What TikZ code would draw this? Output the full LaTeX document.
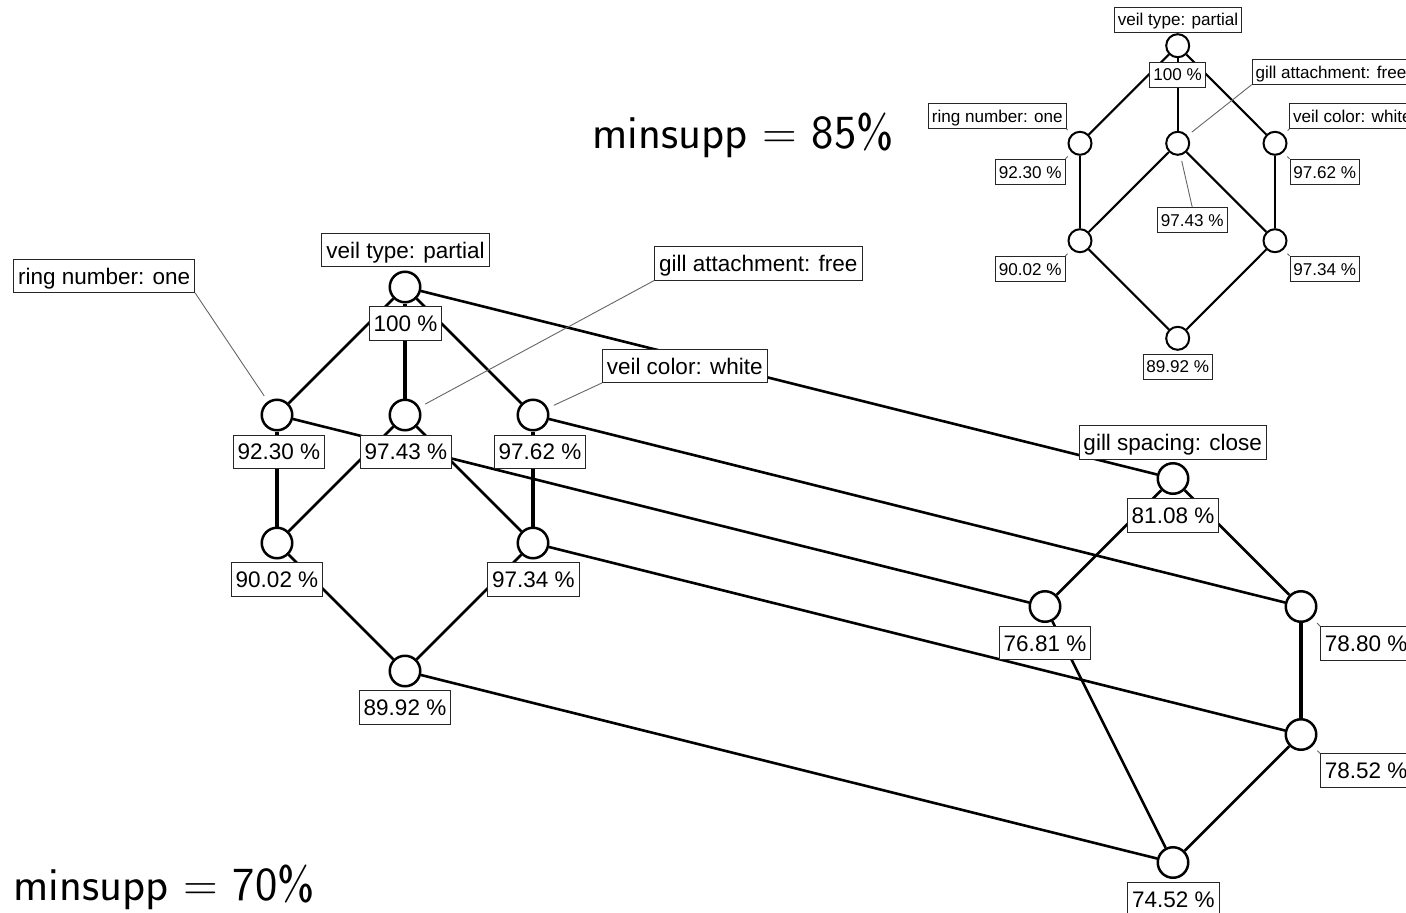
\documentclass[tikz,border=0pt]{standalone}
\usepackage{fontspec}
\setmainfont{Liberation Sans}
\usetikzlibrary{calc,backgrounds}

\begin{document}
\begin{tikzpicture}[x=1pt,y=-1pt,
  lab/.style={draw=black!85, line width=0.8pt, fill=white,
    font=\fontsize{22.5}{27}\selectfont, inner xsep=4.4pt, inner ysep=0pt,
    text height=16.4pt, text depth=0pt, minimum height=33.5pt},
  slab/.style={lab, font=\fontsize{17.1}{20}\selectfont, inner xsep=3.4pt,
    text height=12.4pt, minimum height=25pt},
  dot/.style={circle, draw, line width=2.5pt, fill=white, minimum size=30.5pt, inner sep=0pt},
  sdot/.style={dot, line width=2pt, minimum size=23pt},
  edge/.style={line width=2.6pt},
  vedge/.style={line width=3.2pt},
  sedge/.style={line width=2.1pt},
  pointer/.style={draw=black!60, line width=0.9pt},
  heading/.style={font=\fontsize{47.5}{54}\selectfont\sffamily, inner sep=0pt, anchor=base west}
]
\useasboundingbox (0,0) rectangle (1406,913);
\clip (0,0) rectangle (1406,913);

% ---- lattice at minsupp = 70% : concept circles ----
\node[dot] (T) at (405,287) {};
\node[dot] (A) at (277,415) {};
\node[dot] (B) at (405,415) {};
\node[dot] (C) at (533,415) {};
\node[dot] (D) at (277,543) {};
\node[dot] (E) at (533,543) {};
\node[dot] (F) at (405,671) {};
\node[dot] (G) at (1173,478.5) {};
\node[dot] (H) at (1045,606.5) {};
\node[dot] (I) at (1301,606.5) {};
\node[dot] (J) at (1301,734.5) {};
\node[dot] (K) at (1173,862.5) {};

% ---- lattice at minsupp = 85% : concept circles ----
\node[sdot] (sT) at (1177.7,45.7) {};
\node[sdot] (sA) at (1080,143.3) {};
\node[sdot] (sB) at (1177.7,143.3) {};
\node[sdot] (sC) at (1275,143.3) {};
\node[sdot] (sD) at (1080,240.7) {};
\node[sdot] (sE) at (1275,240.7) {};
\node[sdot] (sF) at (1177.7,338.3) {};

% ---- edges, behind circles and labels ----
\begin{scope}[on background layer]
  \fill[white] (0,0) rectangle (1406,913);
  \draw[edge] (T) -- (A);
  \draw[vedge] (T) -- (B);
  \draw[edge] (T) -- (C);
  \draw[vedge] (A) -- (D);
  \draw[edge] (B) -- (D);
  \draw[edge] (B) -- (E);
  \draw[vedge] (C) -- (E);
  \draw[edge] (D) -- (F);
  \draw[edge] (E) -- (F);
  \draw[edge] (T) -- (G);
  \draw[edge] (A) -- (H);
  \draw[edge] (C) -- (I);
  \draw[edge] (E) -- (J);
  \draw[edge] (F) -- (K);
  \draw[edge] (G) -- (H);
  \draw[edge] (G) -- (I);
  \draw[vedge] (I) -- (J);
  \draw[edge] (H) -- (K);
  \draw[edge] (J) -- (K);

  \draw[sedge] (sT) -- (sA);
  \draw[sedge] (sT) -- (sB);
  \draw[sedge] (sT) -- (sC);
  \draw[sedge] (sA) -- (sD);
  \draw[sedge] (sB) -- (sD);
  \draw[sedge] (sB) -- (sE);
  \draw[sedge] (sC) -- (sE);
  \draw[sedge] (sD) -- (sF);
  \draw[sedge] (sE) -- (sF);
\end{scope}

% ---- labels, large lattice ----
\node[lab] (lT)  at (405.5,250)   {veil type: partial};
\node[lab] (lT2) at (405.5,323.5) {100 \%};
\node[lab] (lA)  at (104.2,275.8) {ring number: one};
\node[lab] (lA2) at (278.8,451.7) {92.30 \%};
\node[lab] (lB)  at (758.3,263.3) {gill attachment: free};
\node[lab] (lB2) at (405.8,451.7) {97.43 \%};
\node[lab] (lC)  at (684.7,365.8) {veil color: white};
\node[lab] (lC2) at (540,451.7)   {97.62 \%};
\node[lab] (lD)  at (277,579.2)   {90.02 \%};
\node[lab] (lE)  at (533.3,579.2) {97.34 \%};
\node[lab] (lF)  at (405,707.2)   {89.92 \%};
\node[lab] (lG)  at (1172.7,442.2) {gill spacing: close};
\node[lab] (lG2) at (1173,515.2)  {81.08 \%};
\node[lab] (lH)  at (1045,643)    {76.81 \%};
\node[lab, anchor=west] (lI) at (1320,643.3) {78.80 \%};
\node[lab, anchor=west] (lJ) at (1320,770.5) {78.52 \%};
\node[lab] (lK)  at (1173.3,899)  {74.52 \%};

\draw[pointer] (lA.south east) -- ($(A)!23pt!(lA.south east)$);
\draw[pointer] (lB.south west) -- ($(B)!23pt!(lB.south west)$);
\draw[pointer] (lC.south west) -- ($(C)!23pt!(lC.south west)$);
\draw[pointer] (lI.north west) -- ($(I)!23pt!(lI.north west)$);
\draw[pointer] (lJ.north west) -- ($(J)!23pt!(lJ.north west)$);

% ---- labels, small lattice ----
\node[slab] (slT)  at (1178,19.5)    {veil type: partial};
\node[slab] (slT2) at (1177.5,74.5)  {100 \%};
\node[slab, anchor=west] (slB) at (1251.7,71.8) {gill attachment: free};
\node[slab] (slA)  at (997.3,116)    {ring number: one};
\node[slab, anchor=west] (slC) at (1289.3,116) {veil color: white};
\node[slab] (slA2) at (1030.3,171.8) {92.30 \%};
\node[slab] (slC2) at (1324.7,171.8) {97.62 \%};
\node[slab] (slB2) at (1192.2,220)   {97.43 \%};
\node[slab] (slD)  at (1030.3,268.8) {90.02 \%};
\node[slab] (slE)  at (1324.7,268.8) {97.34 \%};
\node[slab] (slF)  at (1177.8,366.5) {89.92 \%};

\draw[pointer] (slA.south east)  -- ($(sA)!18pt!(slA.south east)$);
\draw[pointer] (slA2.north east) -- ($(sA)!18pt!(slA2.north east)$);
\draw[pointer] (slD.north east)  -- ($(sD)!18pt!(slD.north east)$);
\draw[pointer] (slC.south west)  -- ($(sC)!18pt!(slC.south west)$);
\draw[pointer] (slC2.north west) -- ($(sC)!18pt!(slC2.north west)$);
\draw[pointer] (slE.north west)  -- ($(sE)!18pt!(slE.north west)$);
\draw[pointer] (slB.south west)  -- ($(sB)!18pt!(slB.south west)$);
\draw[pointer] (slB2.north)      -- ($(sB)!18pt!(slB2.north)$);

% ---- headings ----
\node[heading] (h85) at (592,148.5) {minsupp = 85\%};
\node[heading] (h70) at (13,900)    {minsupp = 70\%};
\end{tikzpicture}
\end{document}
